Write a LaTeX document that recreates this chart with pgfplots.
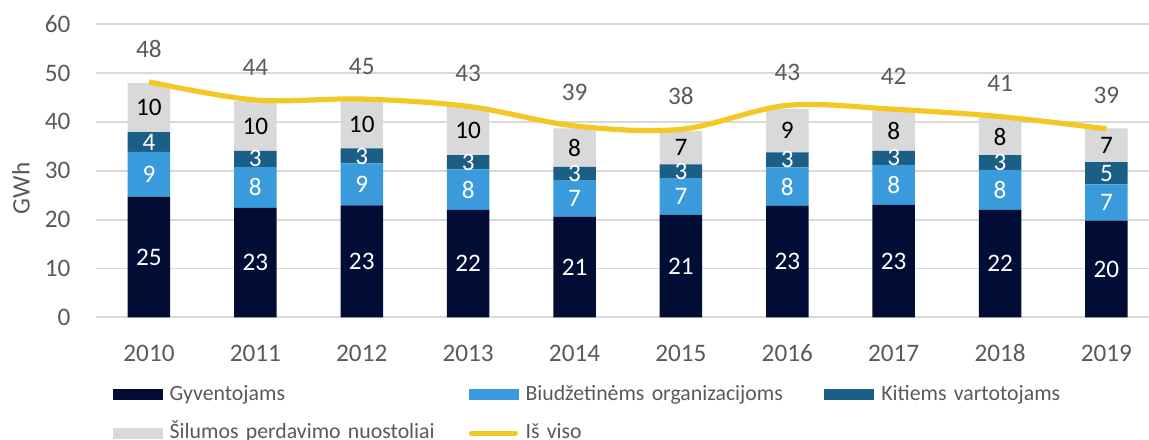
\documentclass[border=0pt]{standalone}
\usepackage{pgfplots}
\pgfplotsset{compat=1.18}
\usepackage{pgfplotstable}
\usepackage{fontspec}
\setmainfont{Carlito}
\definecolor{cNavy}{HTML}{020D36}
\definecolor{cBlue}{HTML}{3A9BDC}
\definecolor{cTeal}{HTML}{1B5E86}
\definecolor{cGray}{HTML}{D9D9D9}
\definecolor{cYellow}{HTML}{F4C824}
\definecolor{cGrid}{HTML}{D9D9D9}
\definecolor{cText}{HTML}{595959}
\newcommand\tickfont{\fontsize{12.6}{15}\selectfont}
\newcommand\legfont{\fontsize{10.9}{13}\selectfont}

\pgfplotstableread{
x  d    b   t   g    tot  ltot
0  24.7 9.2 4.0 10.1 48.2 48
1  22.4 8.4 3.3 10.1 44.5 44
2  22.9 8.6 3.1 9.9  44.7 45
3  22.0 8.3 2.9 10.0 43.2 43
4  20.6 7.4 2.8 7.9  39.2 39
5  21.0 7.4 2.9 6.9  38.5 38
6  22.8 7.9 3.1 8.9  43.4 43
7  23.0 8.2 2.9 8.2  42.6 42
8  22.0 8.2 3.0 7.6  41.1 41
9  19.8 7.4 4.6 6.9  38.6 39
}\datatable

\pgfplotstableread{
x c1 l1 c2 l2 c3 l3 c4 l4
0 12.35 25 29.3 9 35.9 4 42.95 10
1 11.2 23 26.6 8 32.45 3 39.15 10
2 11.45 23 27.2 9 33.05 3 39.55 10
3 11.0 22 26.15 8 31.75 3 38.2 10
4 10.3 21 24.3 7 29.4 3 34.75 8
5 10.5 21 24.7 7 29.85 3 34.75 7
6 11.4 23 26.75 8 32.25 3 38.25 9
7 11.5 23 27.1 8 32.65 3 38.2 8
8 11.0 22 26.1 8 31.7 3 37.0 8
9 9.9 20 23.5 7 29.5 5 35.25 7
}\labeltable

\pgfplotsset{
  common/.style={
    scale only axis, width=526.6pt, height=146.5pt,
    xmin=-0.5, xmax=9.40, ymin=0, ymax=60,
  },
  seglabel/.style={draw=none, no markers, forget plot, nodes near coords,
    point meta=explicit symbolic,
    every node near coord/.append style={anchor=center, inner sep=0pt, font=\tickfont, text=#1}},
}

\begin{document}
\begin{tikzpicture}
\begin{axis}[
  common,
  ybar stacked, bar width=21.25pt,
  axis x line*=bottom, axis y line*=left,
  x axis line style={draw=cGrid, line width=0.9pt},
  y axis line style={draw=none},
  major tick length=0pt,
  ymajorgrids, grid style={draw=cGrid, line width=0.9pt},
  ytick={0,10,...,60},
  xtick={0,...,9},
  xticklabels={2010,2011,2012,2013,2014,2015,2016,2017,2018,2019},
  /pgf/number format/assume math mode=true,
  tick label style={font=\tickfont, text=cText},
  xticklabel style={anchor=base, yshift=-22.2pt},
  yticklabel style={anchor=base east, inner sep=0pt, xshift=-12.5pt, yshift=-4pt},
  ylabel={GWh},
  every axis y label/.style={at={(rel axis cs:0,0.44)}, rotate=90, anchor=center,
    yshift=37.4pt, font=\tickfont, text=cText},
]
\addplot[fill=cNavy, draw=none] table[x=x, y=d] {\datatable};
\addplot[fill=cBlue, draw=none] table[x=x, y=b] {\datatable};
\addplot[fill=cTeal, draw=none] table[x=x, y=t] {\datatable};
\addplot[fill=cGray, draw=none] table[x=x, y=g] {\datatable};
\end{axis}

\begin{axis}[
  common, hide axis, clip=false,
  legend cell align=left,
  legend columns=3,
  legend style={at={(rel axis cs:0,0)}, anchor=north west, xshift=8.45pt, yshift=-29.9pt,
    draw=none, fill=none, inner sep=0pt, outer sep=0pt, font=\legfont, text=cText,
    row sep=1.5pt, column sep=0pt,
    nodes={text width=145.8pt, align=left, text height=8pt, text depth=2.5pt, inner sep=3.6pt}},
]
\addlegendimage{legend image code/.code={\fill[cNavy] (0pt,-2.5pt) rectangle (24.5pt,2.5pt);}}
\addlegendentry{Gyventojams}
\addlegendimage{legend image code/.code={\fill[cBlue] (0pt,-2.5pt) rectangle (24.5pt,2.5pt);}}
\addlegendentry{Biudžetinėms organizacijoms}
\addlegendimage{legend image code/.code={\fill[cTeal] (0pt,-2.5pt) rectangle (24.5pt,2.5pt);}}
\addlegendentry{Kitiems vartotojams}
\addlegendimage{legend image code/.code={\fill[cGray] (0pt,-2.5pt) rectangle (24.5pt,2.5pt);}}
\addlegendentry{Šilumos perdavimo nuostoliai}

\addplot[seglabel=white] table[x=x, y=c1, meta=l1] {\labeltable};
\addplot[seglabel=white] table[x=x, y=c2, meta=l2] {\labeltable};
\addplot[seglabel=white] table[x=x, y=c3, meta=l3] {\labeltable};
\addplot[seglabel=black] table[x=x, y=c4, meta=l4] {\labeltable};

\addplot[cYellow, line width=2.6pt, smooth, tension=0.55, mark=none,
  nodes near coords, point meta=explicit symbolic,
  every node near coord/.append style={anchor=center, inner sep=0pt, yshift=16.5pt,
    font=\tickfont, text=cText, line width=0pt},
  legend image code/.code={\draw[cYellow, line width=2.6pt, line cap=round] (1.3pt,0pt) -- (23.2pt,0pt);}]
  table[x=x, y=tot, meta=ltot] {\datatable};
\addlegendentry{Iš viso}
\end{axis}
\pgfresetboundingbox
\path[use as bounding box] (-47.9pt,-60.85pt) rectangle (526.6pt,158.65pt);
\end{tikzpicture}
\end{document}
